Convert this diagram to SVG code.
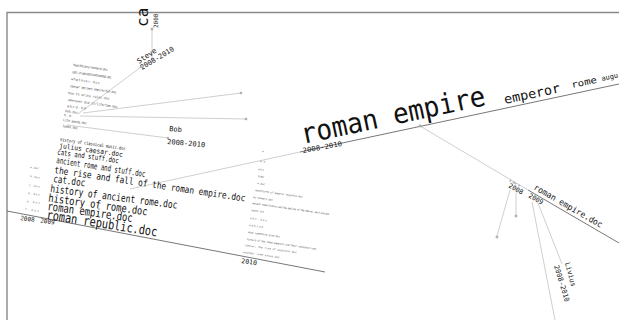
<svg xmlns="http://www.w3.org/2000/svg" width="619" height="320" viewBox="0 0 619 320">
<style>
text{font-family:"DejaVu Sans Mono","Liberation Mono",monospace;fill:#111}
.t{fill:#555}
.base{stroke:#777;stroke-width:1;fill:none}
.con{stroke:#cfcfcf;stroke-width:1;fill:none}
.dot{fill:#fff;stroke:#888;stroke-width:0.8}
</style>
<rect width="619" height="320" fill="#fff"/>
<path d="M7,320 V12.5 H619" stroke="#888" stroke-width="1.4" fill="none"/>

<g id="connectors">
<line class="con" x1="152" y1="29" x2="152" y2="60"/>
<line class="con" x1="141" y1="67" x2="78" y2="114"/>
<line class="con" x1="83" y1="113" x2="241" y2="93"/>
<line class="con" x1="80" y1="116" x2="246" y2="119"/>
<line class="con" x1="67" y1="125" x2="168" y2="138"/>
<line class="con" x1="130" y1="189" x2="300" y2="152"/>
<line class="con" x1="420" y1="126" x2="528" y2="190"/>
<line class="con" x1="510" y1="190" x2="497" y2="236"/>
<line class="con" x1="516" y1="193" x2="516" y2="215"/>
<line class="con" x1="532" y1="202" x2="555" y2="320"/>
<line class="con" x1="538" y1="203" x2="562" y2="264"/>
</g>

<g id="node-ca">
<text transform="translate(148,27) rotate(-90)" font-size="16">ca</text>
<text transform="translate(158,28) rotate(-90)" font-size="6">2008</text>
<circle class="dot" cx="152" cy="29" r="1"/>
</g>

<g id="node-steve">
<text transform="translate(139,64) rotate(-34)" font-size="7.3">Steve</text>
<text transform="translate(142,70) rotate(-31)" font-size="7" textLength="38" lengthAdjust="spacingAndGlyphs">2008-2010</text>
<circle class="dot" cx="141" cy="67" r="0.8"/>
</g>

<g id="node-steve-files" font-size="3.3">
<text class="t" transform="translate(73,66) rotate(8)" textLength="35">healthcare/leonard.doc</text>
<text class="t" transform="translate(72,73) rotate(8)" textLength="40">cats in ancient/continental.doc</text>
<text class="t" transform="translate(71,80) rotate(8)" textLength="29">whatever.doc</text>
<text class="t" transform="translate(70,87) rotate(8)" textLength="47">caesar ancient empire/fun.doc</text>
<text class="t" transform="translate(68,94) rotate(8)" textLength="42">how to write rules.doc</text>
<text class="t" transform="translate(68,101) rotate(8)" textLength="50">wherever did it/life/tam.doc</text>
<text class="t" transform="translate(67,107) rotate(8)" textLength="19">abcd.bd</text>
<text class="t" transform="translate(65,112) rotate(8)" textLength="13">bob.doc</text>
<text class="t" transform="translate(64,116) rotate(8)" textLength="7">b.b</text>
<text class="t" transform="translate(63,121) rotate(8)" textLength="24">Life among.doc</text>
<text class="t" transform="translate(62,127) rotate(8)" textLength="16">Jumbo.doc</text>
</g>

<g id="node-a">
<circle class="dot" cx="241" cy="93" r="0.9"/>
</g>
<g id="node-b">
<circle class="dot" cx="246" cy="119" r="0.9"/>
</g>

<g id="node-bob">
<text transform="translate(169,131) rotate(5)" font-size="7">Bob</text>
<text transform="translate(167,144) rotate(5)" font-size="7" textLength="38" lengthAdjust="spacingAndGlyphs">2008-2010</text>
<circle class="dot" cx="168" cy="138" r="0.8"/>
</g>

<g id="node-timeline">
<line class="base" x1="7" y1="211" x2="325" y2="272"/>
<text transform="translate(20,220) rotate(8)" font-size="6">2008</text>
<text transform="translate(40,222.5) rotate(8)" font-size="6">2009</text>
<text transform="translate(241,263) rotate(8)" font-size="6.5">2010</text>
<g font-size="2.6">
<text class="t" transform="translate(30,168) rotate(8)" textLength="9">a.doc</text>
<text class="t" transform="translate(30,177) rotate(8)" textLength="10">b.doc</text>
<text class="t" transform="translate(29,186) rotate(8)" textLength="11">c.doc</text>
<text class="t" transform="translate(28,194) rotate(8)" textLength="12">d.doc</text>
<text class="t" transform="translate(27,202) rotate(8)" textLength="13">e.doc</text>
<text class="t" transform="translate(25,210) rotate(8)" textLength="14">f.doc</text>
</g>
</g>

<g id="node-2008-files">
<text transform="translate(60,141) rotate(8)" font-size="4.5" textLength="66" lengthAdjust="spacingAndGlyphs">history of classical music.doc</text>
<text transform="translate(59,148) rotate(8)" font-size="7" textLength="64" lengthAdjust="spacingAndGlyphs">julius caesar.doc</text>
<text transform="translate(57,154.5) rotate(8)" font-size="7.5" textLength="62" lengthAdjust="spacingAndGlyphs">cats and stuff.doc</text>
<text transform="translate(56,163) rotate(9)" font-size="8.5" textLength="90" lengthAdjust="spacingAndGlyphs">ancient rome and stuff.doc</text>
<text transform="translate(54,173) rotate(8.5)" font-size="9.5" textLength="193" lengthAdjust="spacingAndGlyphs">the rise and fall of the roman empire.doc</text>
<text transform="translate(53,182) rotate(8)" font-size="10" textLength="32" lengthAdjust="spacingAndGlyphs">cat.doc</text>
<text transform="translate(50,192) rotate(7.5)" font-size="10.5" textLength="128" lengthAdjust="spacingAndGlyphs">history of ancient rome.doc</text>
<text transform="translate(48,201.5) rotate(8)" font-size="11" textLength="100" lengthAdjust="spacingAndGlyphs">history of rome.doc</text>
<text transform="translate(47,210) rotate(8)" font-size="11.5" textLength="86" lengthAdjust="spacingAndGlyphs">roman empire.doc</text>
<text transform="translate(46,219) rotate(9)" font-size="13" textLength="112" lengthAdjust="spacingAndGlyphs">roman republic.doc</text>
</g>

<g id="node-2010-files" font-size="2.6">
<text class="t" transform="translate(262,152) rotate(8)" textLength="3">a</text>
<text class="t" transform="translate(260,162) rotate(8)" textLength="5">ab</text>
<text class="t" transform="translate(258,170) rotate(8)" textLength="6">abc</text>
<text class="t" transform="translate(258,177) rotate(8)" textLength="6">b.doc</text>
<text class="t" transform="translate(257,184) rotate(8)" textLength="8">a.doc</text>
<text class="t" transform="translate(255,191) rotate(8)" textLength="48">adventures of emperor augustus.doc</text>
<text class="t" transform="translate(253,198) rotate(8)" textLength="20">my summary.doc</text>
<text class="t" transform="translate(252,204) rotate(8)" textLength="78">ancient roman history and the decline of the empire, part one.doc</text>
<text class="t" transform="translate(251,211) rotate(8)" textLength="13">notes.txt</text>
<text class="t" transform="translate(250,219) rotate(8)" textLength="17">abc.doc</text>
<text class="t" transform="translate(249,226) rotate(8)" textLength="14">webcam</text>
<text class="t" transform="translate(248,233) rotate(8)" textLength="32">what something else.doc</text>
<text class="t" transform="translate(247,240) rotate(8)" textLength="70">history of the roman emperors and their successors.doc</text>
<text class="t" transform="translate(245,246) rotate(8)" textLength="52">caesar, the rise of augustus.doc</text>
<text class="t" transform="translate(243,253) rotate(8)" textLength="37">another rome essay.doc</text>
</g>

<g id="node-roman-empire">
<line class="base" x1="300" y1="152" x2="619" y2="84"/>
<text transform="translate(303,144) rotate(-12)" font-size="28" textLength="188" lengthAdjust="spacingAndGlyphs">roman empire</text>
<text transform="translate(505,104) rotate(-12)" font-size="13" textLength="57" lengthAdjust="spacingAndGlyphs">emperor</text>
<text transform="translate(572,88) rotate(-12)" font-size="9" textLength="26" lengthAdjust="spacingAndGlyphs">rome</text>
<text transform="translate(602,81) rotate(-12)" font-size="7">augu</text>
<text transform="translate(303,153) rotate(-10)" font-size="7" textLength="40" lengthAdjust="spacingAndGlyphs">2008-2010</text>
<circle class="dot" cx="420" cy="126" r="1"/>
</g>

<g id="node-roman-empire-doc">
<line class="base" x1="528" y1="190" x2="619" y2="243"/>
<text transform="translate(533,189) rotate(30)" font-size="8.5" textLength="78" lengthAdjust="spacingAndGlyphs">roman empire.doc</text>
<text transform="translate(508,187) rotate(30)" font-size="6.5">2008</text>
<text transform="translate(528,197) rotate(30)" font-size="6.5">2009</text>
<text class="t" transform="translate(509,181) rotate(30)" font-size="3" textLength="12">a.doc b</text>
</g>

<g id="node-c"><circle class="dot" cx="497" cy="237" r="1"/></g>
<g id="node-d"><circle class="dot" cx="516" cy="216" r="1"/></g>

<g id="node-livius">
<text transform="translate(565,263) rotate(75)" font-size="7" textLength="25" lengthAdjust="spacingAndGlyphs">Livius</text>
<text transform="translate(554,266) rotate(73)" font-size="7" textLength="38" lengthAdjust="spacingAndGlyphs">2008-2010</text>
</g>
</svg>
